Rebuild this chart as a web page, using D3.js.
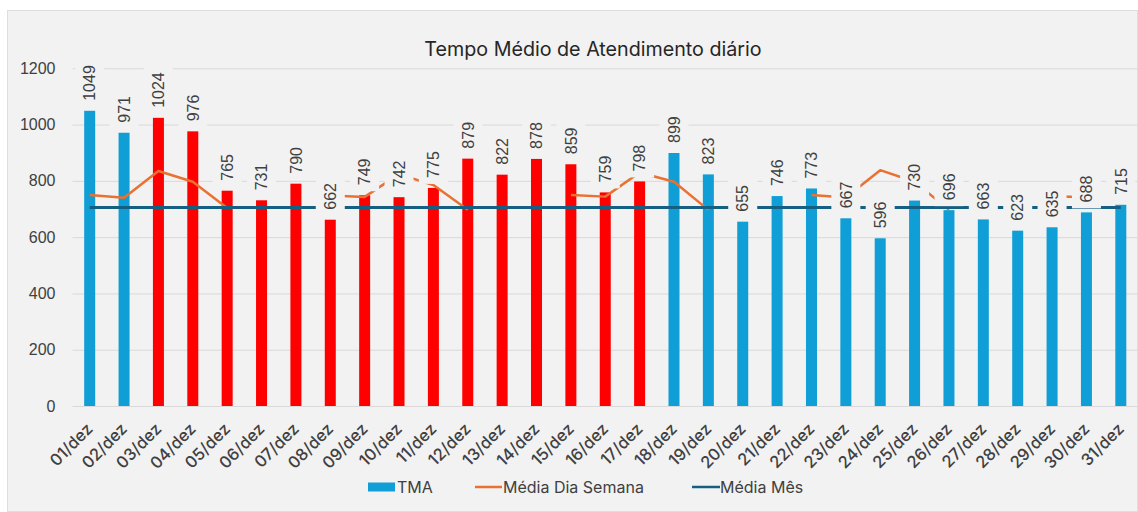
<!DOCTYPE html>
<html lang="pt">
    <head>
        <meta charset="utf-8">
        <title>Tempo Médio de Atendimento diário</title>
        <script src="https://cdn.jsdelivr.net/npm/d3@7"></script>
        <style type="text/css">
        body { margin: 0; background: #ffffff; }
        .grid line { stroke: #d9d9d9; stroke-width: 1px; }
        .grid text { font-family: "Liberation Sans", Arial, sans-serif; font-size: 16px; fill: #404040; }
        .xaxis text { font-family: Inter, "Open Sans", sans-serif; font-size: 16.5px; font-weight: 500; fill: #404040; }
        .rotulo { font-family: "Liberation Sans", Arial, sans-serif; font-size: 16px; fill: #404040; }
        .legenda text { font-family: Inter, "Open Sans", sans-serif; font-size: 16px; fill: #404040; }
        </style>
    </head>
    <body>
        <script type="text/javascript">

        // dados
        var dias = ["01/dez","02/dez","03/dez","04/dez","05/dez","06/dez","07/dez","08/dez","09/dez","10/dez",
                    "11/dez","12/dez","13/dez","14/dez","15/dez","16/dez","17/dez","18/dez","19/dez","20/dez",
                    "21/dez","22/dez","23/dez","24/dez","25/dez","26/dez","27/dez","28/dez","29/dez","30/dez","31/dez"];

        var tma = [1049, 971, 1024, 976, 765, 731, 790, 662, 749, 742,
                   775, 879, 822, 878, 859, 759, 798, 899, 823, 655,
                   746, 773, 667, 596, 730, 696, 663, 623, 635, 688, 715];

        // dias destacados em vermelho
        var destaque = ["03/dez","04/dez","05/dez","06/dez","07/dez","08/dez","09/dez","10/dez",
                        "11/dez","12/dez","13/dez","14/dez","15/dez","16/dez","17/dez"];

        // media por dia da semana (sem valor nos fins de semana)
        var mediaDiaSemana = [750, 740, 835, 797, 704, null, null, 748, 743, 824,
                              785, 697, null, null, 750, 744, 830, 797, 697, null,
                              null, 750, 741, 838, 797, 697, null, null, 745, 742, null];

        var mediaMes = 705;

        var yTicks = [0, 200, 400, 600, 800, 1000, 1200];

        var cores = { tma: "#0f9ed5", destaque: "#ff0000", semana: "#e97132", mes: "#156082", fundo: "#f2f2f2" };

        //Create svg

        var W = 1138, H = 512;
        var svg = d3.select("body")
                    .append("svg")
                    .attr("width", W)
                    .attr("height", H);

        svg.append("rect")
           .attr("x", 7.5)
           .attr("y", 10.5)
           .attr("width", W - 8)
           .attr("height", H - 11)
           .attr("fill", cores.fundo)
           .attr("stroke", "#dedede");

        var pLeft = 72.5, pRight = 1138, pTop = 68.3, pBottom = 406;

        var x = d3.scaleBand()
                  .domain(dias)
                  .range([pLeft, pRight])
                  .paddingInner(0.68)
                  .paddingOuter(0.34);

        var y = d3.scaleLinear()
                  .domain([0, 1200])
                  .range([pBottom, pTop]);

        //Grid + y axis

        svg.append("g")
           .attr("class", "grid")
           .attr("transform", "translate(" + pLeft + ",0)")
           .call(d3.axisLeft(y).tickValues(yTicks).tickSize(-(pRight - pLeft)).tickPadding(17).tickFormat(d3.format("d")))
           .call(function(g) { g.select(".domain").remove(); });

        //Title

        svg.append("text")
           .attr("x", 593)
           .attr("y", 56)
           .attr("text-anchor", "middle")
           .style("font-family", "Inter, 'Open Sans', sans-serif")
           .style("font-size", "19.7px")
           .style("fill", "#262626")
           .text("Tempo Médio de Atendimento diário");

        //Bars

        svg.append("g")
           .selectAll("rect")
           .data(dias)
           .enter()
           .append("rect")
           .attr("x", function(d) { return x(d); })
           .attr("width", x.bandwidth())
           .attr("y", function(d, i) { return y(tma[i]); })
           .attr("height", function(d, i) { return y(0) - y(tma[i]); })
           .attr("fill", function(d) { return destaque.indexOf(d) >= 0 ? cores.destaque : cores.tma; });

        //Lines

        var cx = function(d) { return x(d) + x.bandwidth() / 2; };

        var linhaSemana = d3.line()
                            .defined(function(d, i) { return mediaDiaSemana[i] !== null; })
                            .x(function(d) { return cx(d); })
                            .y(function(d, i) { return y(mediaDiaSemana[i]); });

        svg.append("path")
           .attr("d", linhaSemana(dias))
           .attr("fill", "none")
           .attr("stroke", cores.semana)
           .attr("stroke-width", 2.5)
           .attr("stroke-linejoin", "round");

        var linhaMes = d3.line()
                         .x(function(d) { return cx(d); })
                         .y(function() { return y(mediaMes); });

        svg.append("path")
           .attr("d", linhaMes(dias))
           .attr("fill", "none")
           .attr("stroke", cores.mes)
           .attr("stroke-width", 3);

        //Data labels (box with chart background, covers lines like excel)

        var rotulos = svg.append("g")
                         .selectAll("g")
                         .data(dias)
                         .enter()
                         .append("g")
                         .attr("transform", function(d, i) {
                             return "translate(" + cx(d) + "," + (y(tma[i]) - 10) + ") rotate(-90)";
                         });

        rotulos.append("text")
               .attr("class", "rotulo")
               .attr("dy", "0.36em")
               .text(function(d, i) { return tma[i]; });

        rotulos.insert("rect", "text")
               .attr("x", -6)
               .attr("y", -14.5)
               .attr("height", 29)
               .attr("width", function() {
                   return this.parentNode.querySelector("text").getComputedTextLength() + 11;
               })
               .attr("fill", cores.fundo);

        //X axis labels

        svg.append("g")
           .attr("class", "xaxis")
           .attr("transform", "translate(0," + pBottom + ")")
           .call(d3.axisBottom(x).tickSize(0))
           .call(function(g) { g.select(".domain").remove(); })
           .selectAll("text")
           .attr("y", 0)
           .attr("dy", "0.35em")
           .attr("text-anchor", "end")
           .attr("transform", "translate(0,20) rotate(-45)");

        //Legend

        var legenda = svg.append("g").attr("class", "legenda");

        legenda.append("rect")
               .attr("x", 368).attr("y", 482.5)
               .attr("width", 27).attr("height", 9)
               .attr("fill", cores.tma);
        legenda.append("text")
               .attr("x", 397).attr("y", 487).attr("dy", "0.35em")
               .text("TMA");

        legenda.append("line")
               .attr("x1", 475).attr("x2", 502)
               .attr("y1", 487).attr("y2", 487)
               .attr("stroke", cores.semana).attr("stroke-width", 2.5);
        legenda.append("text")
               .attr("x", 503).attr("y", 487).attr("dy", "0.35em")
               .text("Média Dia Semana");

        legenda.append("line")
               .attr("x1", 692).attr("x2", 720)
               .attr("y1", 487).attr("y2", 487)
               .attr("stroke", cores.mes).attr("stroke-width", 2.5);
        legenda.append("text")
               .attr("x", 720).attr("y", 487).attr("dy", "0.35em")
               .text("Média Mês");

        </script>
    </body>
</html>
